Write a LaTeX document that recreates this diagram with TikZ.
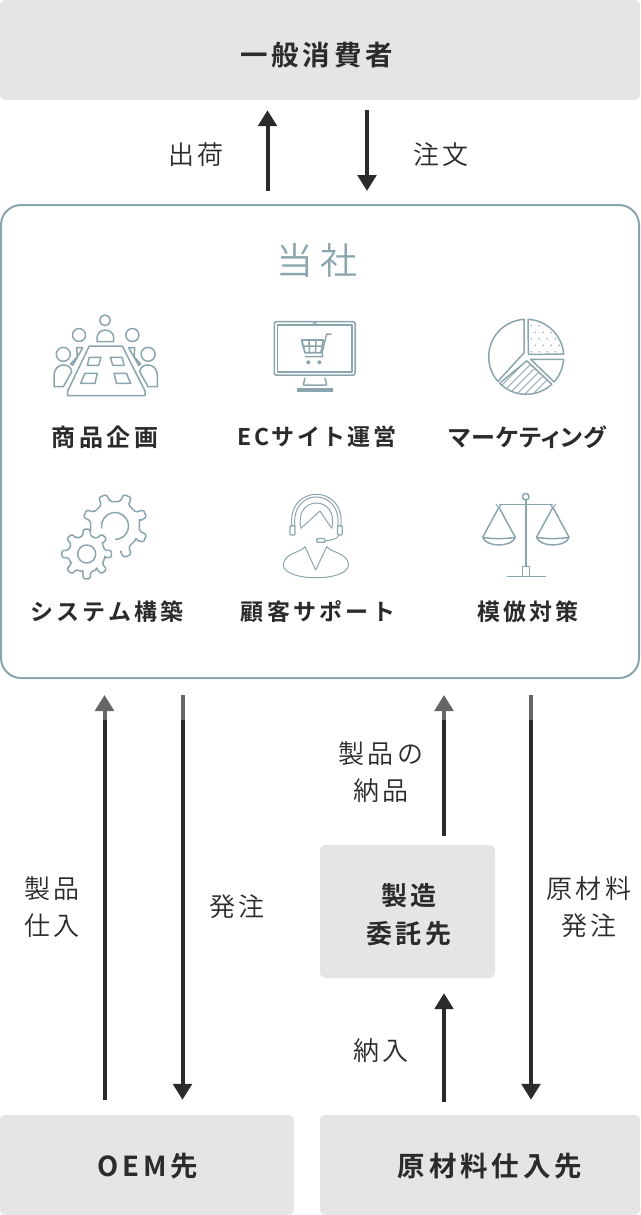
\documentclass[tikz,border=0pt]{standalone}
\usepackage{fontspec}
\newfontfamily\jpbold[LetterSpace=14]{Noto Sans CJK JP Bold}
\newfontfamily\jptight[LetterSpace=4,RawFeature=+palt]{Noto Sans CJK JP Bold}
\newfontfamily\jplight[LetterSpace=12]{Noto Sans CJK JP DemiLight}
\usetikzlibrary{arrows.meta}
\definecolor{boxgray}{HTML}{E5E5E5}
\definecolor{iconblue}{HTML}{8BA5AE}
\definecolor{inkdark}{HTML}{2B2B2B}
\tikzset{
  graybox/.style={fill=boxgray,rounded corners=5pt,inner sep=0pt},
  boxlabel/.style={inner sep=0pt,text=inkdark,align=center,font=\jpbold\fontsize{27.5}{38}\selectfont},
  flowarrow/.style={draw=inkdark,line width=4pt,-{Triangle[width=18.5pt,length=16pt]}},
  flowlabel/.style={inner sep=0pt,text=inkdark,align=center,font=\jplight\fontsize{26}{37}\selectfont},
  itemlabel/.style={inner sep=0pt,text=inkdark,font=\jpbold\fontsize{23}{28}\selectfont},
  iconline/.style={draw=iconblue,line width=1.5pt,line join=round},
  thinline/.style={draw=iconblue,line width=1pt,line join=round},
}
\begin{document}
\begin{tikzpicture}[x=1pt,y=-1pt]
  \useasboundingbox (0,0) rectangle (640,1215);
  % boxes
  \node[graybox,minimum width=640pt,minimum height=100pt] (consumer) at (320,50) {};
  \node[draw=iconblue,line width=2pt,rounded corners=20pt,inner sep=0pt,minimum width=638pt,minimum height=473pt] (company) at (320,441.5) {};
  \node[graybox,minimum width=294pt,minimum height=100pt] (oem) at (147,1165) {};
  \node[graybox,minimum width=320pt,minimum height=100pt] (material) at (480,1165) {};
  \node[graybox,minimum width=175pt,minimum height=133pt] (maker) at (407.5,911.5) {};
  \node[boxlabel] (consumertext) at (316.5,55.5) {一般消費者};
  \node[boxlabel] (oemtext) at (148,1166.5) {OEM先};
  \node[boxlabel] (materialtext) at (490,1166.5) {原材料仕入先};
  \node[boxlabel,font=\jpbold\fontsize{26}{38}\selectfont] (makertext) at (409,914.5) {製造\\委託先};
  \node[inner sep=0pt,text=iconblue,font=\jplight\fontsize{37}{40}\selectfont] (title) at (317,260) {\addfontfeature{LetterSpace=18}当社};
  % arrow columns
  \coordinate (colA) at (104.5,0);
  \coordinate (colB) at (182.5,0);
  \coordinate (colC) at (267.5,0);
  \coordinate (colD) at (367,0);
  \coordinate (colE) at (444,0);
  \coordinate (colF) at (531,0);
  \draw[flowarrow,shorten <=13pt,shorten >=10pt] (company.north -| colC) -- (consumer.south -| colC);
  \draw[flowarrow,shorten <=10pt,shorten >=13pt] (consumer.south -| colD) -- (company.north -| colD);
  \draw[flowarrow,shorten <=15pt,shorten >=16pt] (oem.north -| colA) -- (company.south -| colA);
  \draw[flowarrow,shorten <=16pt,shorten >=15pt] (company.south -| colB) -- (oem.north -| colB);
  \draw[flowarrow,shorten <=9pt,shorten >=16pt] (maker.north -| colE) -- (company.south -| colE);
  \draw[flowarrow,shorten <=13pt,shorten >=15pt] (material.north -| colE) -- (maker.south -| colE);
  \draw[flowarrow,shorten <=16pt,shorten >=15pt] (company.south -| colF) -- (material.north -| colF);
  % faded tops of the lower arrows
  \fill[white,opacity=.28] (90,694) rectangle (195,720);
  \fill[white,opacity=.28] (430,694) rectangle (540,720);
  % labels
  \node[flowlabel] (ship) at (196,155) {出荷};
  \node[flowlabel] (order) at (441,155) {注文};
  \node[flowlabel] (deliver) at (381,772) {製品の\\納品};
  \node[flowlabel] (purchase) at (52,907) {製品\\仕入};
  \node[flowlabel] (place) at (237,907) {発注};
  \node[flowlabel] (rawplace) at (589,907) {原材料\\発注};
  \node[flowlabel] (supply) at (381,1051) {納入};
  \node[itemlabel,font=\jpbold\fontsize{24}{28}\selectfont] (planning) at (105,437) {商品企画};
  \node[itemlabel] (ecsite) at (317,437) {\addfontfeature{LetterSpace=10}ECサイト運営};
  \node[itemlabel,font=\jptight\fontsize{24}{28}\selectfont] (marketing) at (527.5,437) {マーケティング};
  \node[itemlabel] (system) at (107,612) {システム構築};
  \node[itemlabel] (support) at (318,612) {顧客サポート};
  \node[itemlabel] (antifake) at (528,612) {模倣対策};
  % meeting icon
  \draw[iconline] (105,320.3) circle (5.3);
  \draw[iconline] (97,341.7) -- (97,338) .. controls (97,327.5) and (113.7,327.5) .. (113.7,338) -- (113.7,341.7) -- cycle;
  \draw[iconline] (89.3,346) -- (122.3,346) -- (145,391) -- (145,395.7) -- (67.7,395.7) -- (67.7,391) -- cycle;
  \foreach \m in {1,-1} {
    \begin{scope}[shift={(105.7,0)},xscale=\m]
      \draw[iconline] (-26.7,335) circle (6.5);
      \draw[iconline] (-42.4,354.3) circle (7);
      \draw[iconline] (-51.7,386.7) -- (-51.7,376) .. controls (-51.7,362) and (-35,362) .. (-34,371.7) -- (-42.4,386.7) -- cycle;
      \draw[iconline] (-29,347.7) -- (-23,347.7) -- (-33,365.3) -- (-35,364) -- (-28.4,356.7) -- cycle;
      \draw[iconline] (-16.4,357.3) -- (-4.7,357.3) -- (-7,365.3) -- (-18.4,365.3) -- cycle;
      \draw[iconline] (-20.7,373.3) -- (-8.4,373.3) -- (-10.7,383.3) -- (-25,383.3) -- cycle;
    \end{scope}
  }
  % monitor icon
  \draw[iconline,rounded corners=1.5pt] (274.3,321.7) rectangle (355,375);
  \draw[iconline] (277.3,325) rectangle (352,372);
  \draw[iconline,line width=1pt] (314.7,323.3) circle (1.5);
  \draw[iconline] (303.3,385) -- (305,377.7) (325,377.7) -- (326.7,385) (303.3,385) -- (326.7,385);
  \fill[iconblue] (296.7,388.3) rectangle (332.7,392.3);
  \draw[iconline,line width=1.8pt] (301.7,340) -- (323.3,340) -- (321,352.7) -- (305,352.7) -- cycle;
  \draw[iconline] (309,340) -- (309.5,352.7) (316,340) -- (315.5,352.7) (302.5,346) -- (322.5,346);
  \draw[iconline] (331.7,334) -- (326.7,334) -- (322.3,351.7) -- (322.3,356.7) -- (305,356.7);
  \fill[iconblue] (308.3,362.3) circle (2) (319.3,362.3) circle (2);
  % pie icon
  \begin{scope}[shift={(526.2,356.8)},y=1pt]
    \draw[iconline] (93:37.5) arc[start angle=93,end angle=221,radius=37.5pt] -- (-2.2,4) -- cycle;
    \draw[iconline] (87:37.5) arc[start angle=87,end angle=4,radius=37.5pt] -- (2.1,2.5) -- cycle;
    \draw[iconline] (-4:37.5) arc[start angle=-4,end angle=-42,radius=37.5pt] -- (4.5,-2.5) -- cycle;
    \draw[iconline] (-47:37.5) arc[start angle=-47,end angle=-135,radius=37.5pt] -- (0.5,-4) -- cycle;
    \begin{scope}
      \clip (-47:37.5) arc[start angle=-47,end angle=-135,radius=37.5pt] -- (0.5,-4) -- cycle;
      \foreach \h in {-36,-28,...,44}
        \draw[iconblue,line width=1pt] (\h-40,-40) -- (\h,0);
    \end{scope}
    \begin{scope}
      \clip (87:35.5) arc[start angle=87,end angle=4,radius=35.5pt] -- (4,4) -- cycle;
      \foreach \i in {0,...,4}
        \foreach \j in {0,...,5}
          \fill[iconblue] ({5+\i*8+mod(\j,2)*4},{5+\j*6.5}) circle (.8);
    \end{scope}
  \end{scope}
  % gears icon
  \begin{scope}[shift={(86.7,554)},y=1pt]
    \draw[iconline,rounded corners=1.5pt] (-12:18.5) \foreach \a in {0,45,...,315} { -- (\a-12:18.5) -- (\a-8:25) -- (\a+8:25) -- (\a+12:18.5) -- (\a+33:18.5) } -- cycle;
    \draw[iconline] (0,0) circle (9);
  \end{scope}
  \begin{scope}[shift={(115,526)},y=1pt]
    \draw[iconline,rounded corners=1.5pt] (-76:26) \foreach \a in {-67.5,-22.5,...,157.5} { -- (\a-11:25) -- (\a-7:32.7) -- (\a+7:32.7) -- (\a+11:25) -- (\a+34:25) };
    \draw[iconline] (190:13.5) arc[start angle=190,end angle=-90,radius=13.5pt];
  \end{scope}
  % headset icon
  \draw[thinline] (292,526.7) .. controls (286,483.5) and (346.7,483.5) .. (340.7,526.7);
  \draw[thinline] (295,526.7) .. controls (290,487) and (342.7,487) .. (337.7,526.7);
  \draw[thinline] (301,528.3) .. controls (293,494.6) and (339.7,494.6) .. (331.7,528.3);
  \draw[thinline] (301,528.3) -- (320,511) -- (331.7,528.3);
  \draw[iconline,rounded corners=1pt,line width=1.2pt] (290,525.7) rectangle (295,535);
  \draw[iconline,rounded corners=1pt,line width=1.2pt] (337.5,525.7) rectangle (342.3,535);
  \draw[thinline] (339,535) .. controls (337,540) and (330,540) .. (325,541);
  \draw[iconline,rounded corners=1pt,line width=1.2pt] (316.7,538.6) rectangle (325,542.3);
  \draw[thinline] (305,546.7) -- (315.7,570) -- (326.7,546.7) .. controls (332,553) and (348,553) .. (348.5,565) .. controls (348,582) and (284,582) .. (283.3,565) .. controls (284,553) and (300,553) .. (305,546.7);
  % scales icon
  \draw[iconline] (525.7,496.7) circle (3.3);
  \draw[iconline,line width=1.8pt] (525.7,500) -- (525.7,567);
  \draw[iconline] (522.7,576.7) -- (522.7,566.7) -- (529.3,566.7) -- (529.3,576.7);
  \draw[iconline] (506.7,576.7) -- (545.7,576.7);
  \draw[iconline] (499,504.5) -- (552.7,504.5);
  \foreach \m in {1,-1} {
    \begin{scope}[shift={(525.9,0)},xscale=\m]
      \draw[iconline,line width=1pt] (-30,504) -- (-27,508) -- (-24,504);
      \draw[iconline] (-43.2,537.3) -- (-27,507.3) -- (-10.6,537.3);
      \draw[iconline] (-43.2,537.3) .. controls (-35,539) and (-19,539) .. (-10.6,537.3) .. controls (-14,547.5) and (-40,547.5) .. (-43.2,537.3) -- cycle;
    \end{scope}
  }
\end{tikzpicture}
\end{document}
